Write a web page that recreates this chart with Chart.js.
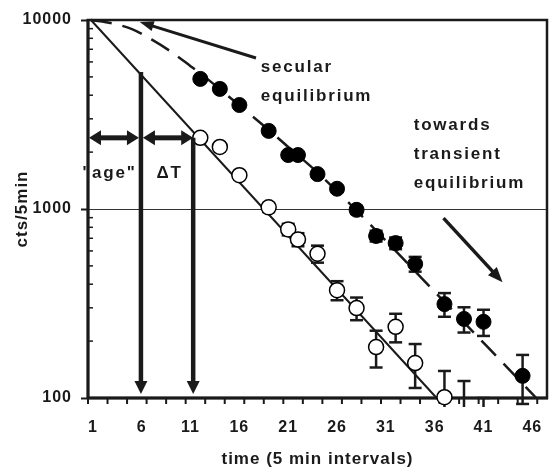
<!DOCTYPE html>
<html><head><meta charset="utf-8">
<script src="https://cdn.jsdelivr.net/npm/chart.js@4.4.0/dist/chart.umd.min.js"></script>
<style>html,body{margin:0;padding:0;background:#fff}</style>
</head><body>
<canvas id="c" width="556" height="470"></canvas>
<script>
// ---- data ----
const openX   = [12, 14, 16, 19, 21, 22, 24, 26, 28, 30, 32, 34, 37, 39, 41];
const openY   = [2380, 2130, 1510, 1020, 780, 690, 580, 372, 299, 186, 238, 153, 101, 83, 60];
const openErr = [60, 55, 55, 55, 55, 55, 60, 43, 41, 41, 41, 40, 38, 40, 40];

const filledX   = [12, 14, 16, 19, 21, 22, 24, 26, 28, 30, 32, 34, 37, 39, 41, 45];
const filledY   = [4880, 4320, 3550, 2590, 1930, 1930, 1530, 1280, 990, 720, 660, 512, 314, 262, 253, 131];
const filledErr = [70, 65, 60, 55, 50, 50, 50, 48, 48, 47, 47, 46, 45, 40, 40, 38];

// solid fit (open circles) and dashed curve (filled circles)
const solidX = [0.8, 36.2];
const solidY = [10000, 100];
const dashX = [0.8, 3, 5, 7, 9, 11, 13, 15, 17, 19, 21, 24, 28, 32, 36, 40, 44, 46.4];
const dashY = [10000, 9600, 8950, 7900, 6800, 5700, 4750, 3900, 3200, 2620, 2130, 1560, 980, 600, 365, 222, 135, 100];

// axes
const xTickLabels = [1, 6, 11, 16, 21, 26, 31, 36, 41, 46];
const yTickLabels = [100, 1000, 10000];
const yMinor = [200,300,400,500,600,700,800,900,2000,3000,4000,5000,6000,7000,8000,9000];

// annotations (data coordinates)
const ageTimes = [5.92, 11.27];       // vertical arrows
const ageTops  = [5300, 2380];
const ageLevel = 2380;                // horizontal double arrows
const notes = [
  {t: '"age"', x: 2.69, y: 1549, a: 'center'},
  {t: 'ΔT', x: 8.85, y: 1549, a: 'center'},
  {t: 'secular', x: 18.2, y: 5636, a: 'left'},
  {t: 'equilibrium', x: 18.2, y: 3964, a: 'left'},
  {t: 'towards', x: 33.85, y: 2783, a: 'left'},
  {t: 'transient', x: 33.85, y: 1956, a: 'left'},
  {t: 'equilibrium', x: 33.85, y: 1372, a: 'left'}
];
const secArrow = [17.7, 6295, 5.8, 9760];
const trArrow  = [36.9, 895, 42.95, 410];

// ---- drawing ----
const FONT = "'Liberation Sans', Arial, Helvetica, sans-serif";
const INK = '#1a1a1a';
const pts = (xs, ys) => xs.map((v, i) => ({x: v, y: ys[i]}));

function seg(ctx, x1, y1, x2, y2) { ctx.beginPath(); ctx.moveTo(x1, y1); ctx.lineTo(x2, y2); ctx.stroke(); }
function head(ctx, tx, ty, ang, len, w) {
  const c = Math.cos(ang), s = Math.sin(ang);
  ctx.beginPath();
  ctx.moveTo(tx, ty);
  ctx.lineTo(tx - len * c + w / 2 * s, ty - len * s - w / 2 * c);
  ctx.lineTo(tx - len * c - w / 2 * s, ty - len * s + w / 2 * c);
  ctx.closePath(); ctx.fill();
}
function arrow(ctx, x1, y1, x2, y2, lw, len, w, both) {
  const ang = Math.atan2(y2 - y1, x2 - x1), c = Math.cos(ang), s = Math.sin(ang);
  ctx.lineWidth = lw;
  const sx = both ? x1 + (len - 1) * c : x1, sy = both ? y1 + (len - 1) * s : y1;
  seg(ctx, sx, sy, x2 - (len - 1) * c, y2 - (len - 1) * s);
  head(ctx, x2, y2, ang, len, w);
  if (both) head(ctx, x1, y1, ang + Math.PI, len, w);
}

const deco = {
  id: 'deco',
  beforeDraw(chart) { chart.ctx.letterSpacing = '1px'; },
  beforeDatasetsDraw(chart) {
    const {ctx, chartArea: a, scales: {x, y}} = chart;
    ctx.save();
    ctx.strokeStyle = INK; ctx.fillStyle = INK;
    ctx.lineWidth = 1.5;
    yMinor.forEach(v => { const py = y.getPixelForValue(v); seg(ctx, a.left, py, a.left + 5, py); });
    ctx.lineWidth = 2;
    for (let v = 0.5; v < 47; v += 2) { const px = x.getPixelForValue(v); seg(ctx, px, a.bottom, px, a.bottom + 6); }
    ctx.lineWidth = 2.5;
    ctx.strokeRect(a.left, a.top, a.right - a.left, a.bottom - a.top);
    ctx.lineWidth = 3;
    seg(ctx, a.left, a.top - 1, a.left, a.bottom + 1);
    seg(ctx, a.left - 1, a.bottom, a.right + 1, a.bottom);
    // error bars
    ctx.save();
    ctx.beginPath(); ctx.rect(a.left - 10, a.top, a.right - a.left + 20, a.bottom - a.top + 9); ctx.clip();
    ctx.lineWidth = 2.5;
    const bars = (xs, ys, es) => xs.forEach((v, i) => {
      const px = x.getPixelForValue(v);
      const p1 = y.getPixelForValue(ys[i] + es[i]);
      const p2 = y.getPixelForValue(Math.max(ys[i] - es[i], 1));
      seg(ctx, px, p1, px, p2);
      seg(ctx, px - 6.5, p1, px + 6.5, p1);
      seg(ctx, px - 6.5, p2, px + 6.5, p2);
    });
    bars(openX, openY, openErr);
    bars(filledX, filledY, filledErr);
    ctx.restore();
    ctx.restore();
  },
  afterDatasetsDraw(chart) {
    const {ctx, chartArea: a, scales: {x, y}} = chart;
    ctx.save();
    ctx.strokeStyle = INK; ctx.fillStyle = INK; ctx.lineCap = 'butt';
    // vertical arrows
    ageTimes.forEach((t, i) => {
      const px = x.getPixelForValue(t);
      arrow(ctx, px, y.getPixelForValue(ageTops[i]), px, a.bottom - 4, 4.5, 13, 13, false);
    });
    // horizontal double arrows
    const py = y.getPixelForValue(ageLevel);
    const p0 = x.getPixelForValue(0.5), p1 = x.getPixelForValue(ageTimes[0]), p2 = x.getPixelForValue(ageTimes[1]);
    arrow(ctx, p0 + 1, py, p1 - 2, py, 5, 12, 15, true);
    arrow(ctx, p1 + 2, py, p2, py, 5, 12, 15, true);
    // slanted arrows
    arrow(ctx, x.getPixelForValue(secArrow[0]), y.getPixelForValue(secArrow[1]),
               x.getPixelForValue(secArrow[2]), y.getPixelForValue(secArrow[3]), 3, 14, 10, false);
    arrow(ctx, x.getPixelForValue(trArrow[0]), y.getPixelForValue(trArrow[1]),
               x.getPixelForValue(trArrow[2]), y.getPixelForValue(trArrow[3]), 3.5, 15, 12, false);
    // texts
    ctx.font = 'bold 17px ' + FONT;
    ctx.letterSpacing = '1.8px';
    ctx.textBaseline = 'middle';
    notes.forEach(n => {
      ctx.textAlign = n.a;
      ctx.fillText(n.t, x.getPixelForValue(n.x), y.getPixelForValue(n.y));
    });
    ctx.restore();
  }
};

new Chart(document.getElementById('c'), {
  type: 'scatter',
  data: {
    datasets: [
      {
        label: 'filled', data: pts(filledX, filledY),
        pointRadius: 7.5, pointBackgroundColor: '#000', pointBorderColor: '#000', pointBorderWidth: 1,
        showLine: false, clip: false
      },
      {
        label: 'open', data: pts(openX, openY),
        pointRadius: c => (c.raw && c.raw.y < 100 ? 0 : 7.5),
        pointBackgroundColor: '#fff', pointBorderColor: '#000', pointBorderWidth: 1.5,
        showLine: false, clip: false
      },
      {
        label: 'solid', data: pts(solidX, solidY), showLine: true,
        borderColor: INK, borderWidth: 2, pointRadius: 0, clip: false
      },
      {
        label: 'dash', data: pts(dashX, dashY), showLine: true,
        borderColor: INK, borderWidth: 2.5, borderDash: [21, 11], pointRadius: 0,
        cubicInterpolationMode: 'monotone', clip: false
      }
    ]
  },
  options: {
    responsive: false, animation: false, devicePixelRatio: 1,
    layout: {padding: {left: 0, top: 20, right: 3, bottom: 0}},
    plugins: {legend: {display: false}, tooltip: {enabled: false}},
    scales: {
      x: {
        type: 'linear', min: 0.5, max: 47.5,
        afterBuildTicks: s => { s.ticks = xTickLabels.map(v => ({value: v})); },
        afterFit: s => { s.height = 72; s.paddingLeft = 0; s.paddingRight = 0; },
        grid: {display: false, drawTicks: false},
        border: {display: false},
        ticks: {autoSkip: false, maxRotation: 0, padding: 20, color: INK,
                font: {family: FONT, size: 16, weight: 'bold'}, callback: v => String(v)},
        title: {display: true, text: 'time (5 min intervals)', color: INK,
                font: {family: FONT, size: 17, weight: 'bold'}, padding: {top: 0, bottom: 0}}
      },
      y: {
        type: 'logarithmic', min: 100, max: 10000,
        afterBuildTicks: s => { s.ticks = yTickLabels.map(v => ({value: v})); },
        afterFit: s => { s.width = 88; s.paddingTop = 0; s.paddingBottom = 0; },
        grid: {drawTicks: true, tickLength: 7, tickWidth: 2, tickColor: INK, lineWidth: 1,
               color: c => (c.tick && c.tick.value === 1000 ? '#333' : 'rgba(0,0,0,0)')},
        border: {display: false},
        ticks: {padding: 9, color: INK, font: {family: FONT, size: 16, weight: 'bold'},
                callback: v => String(v)},
        title: {display: true, text: 'cts/5min', color: INK,
                font: {family: FONT, size: 17, weight: 'bold'}, padding: {top: 12, bottom: 0}}
      }
    }
  },
  plugins: [deco]
});
</script>
</body></html>
